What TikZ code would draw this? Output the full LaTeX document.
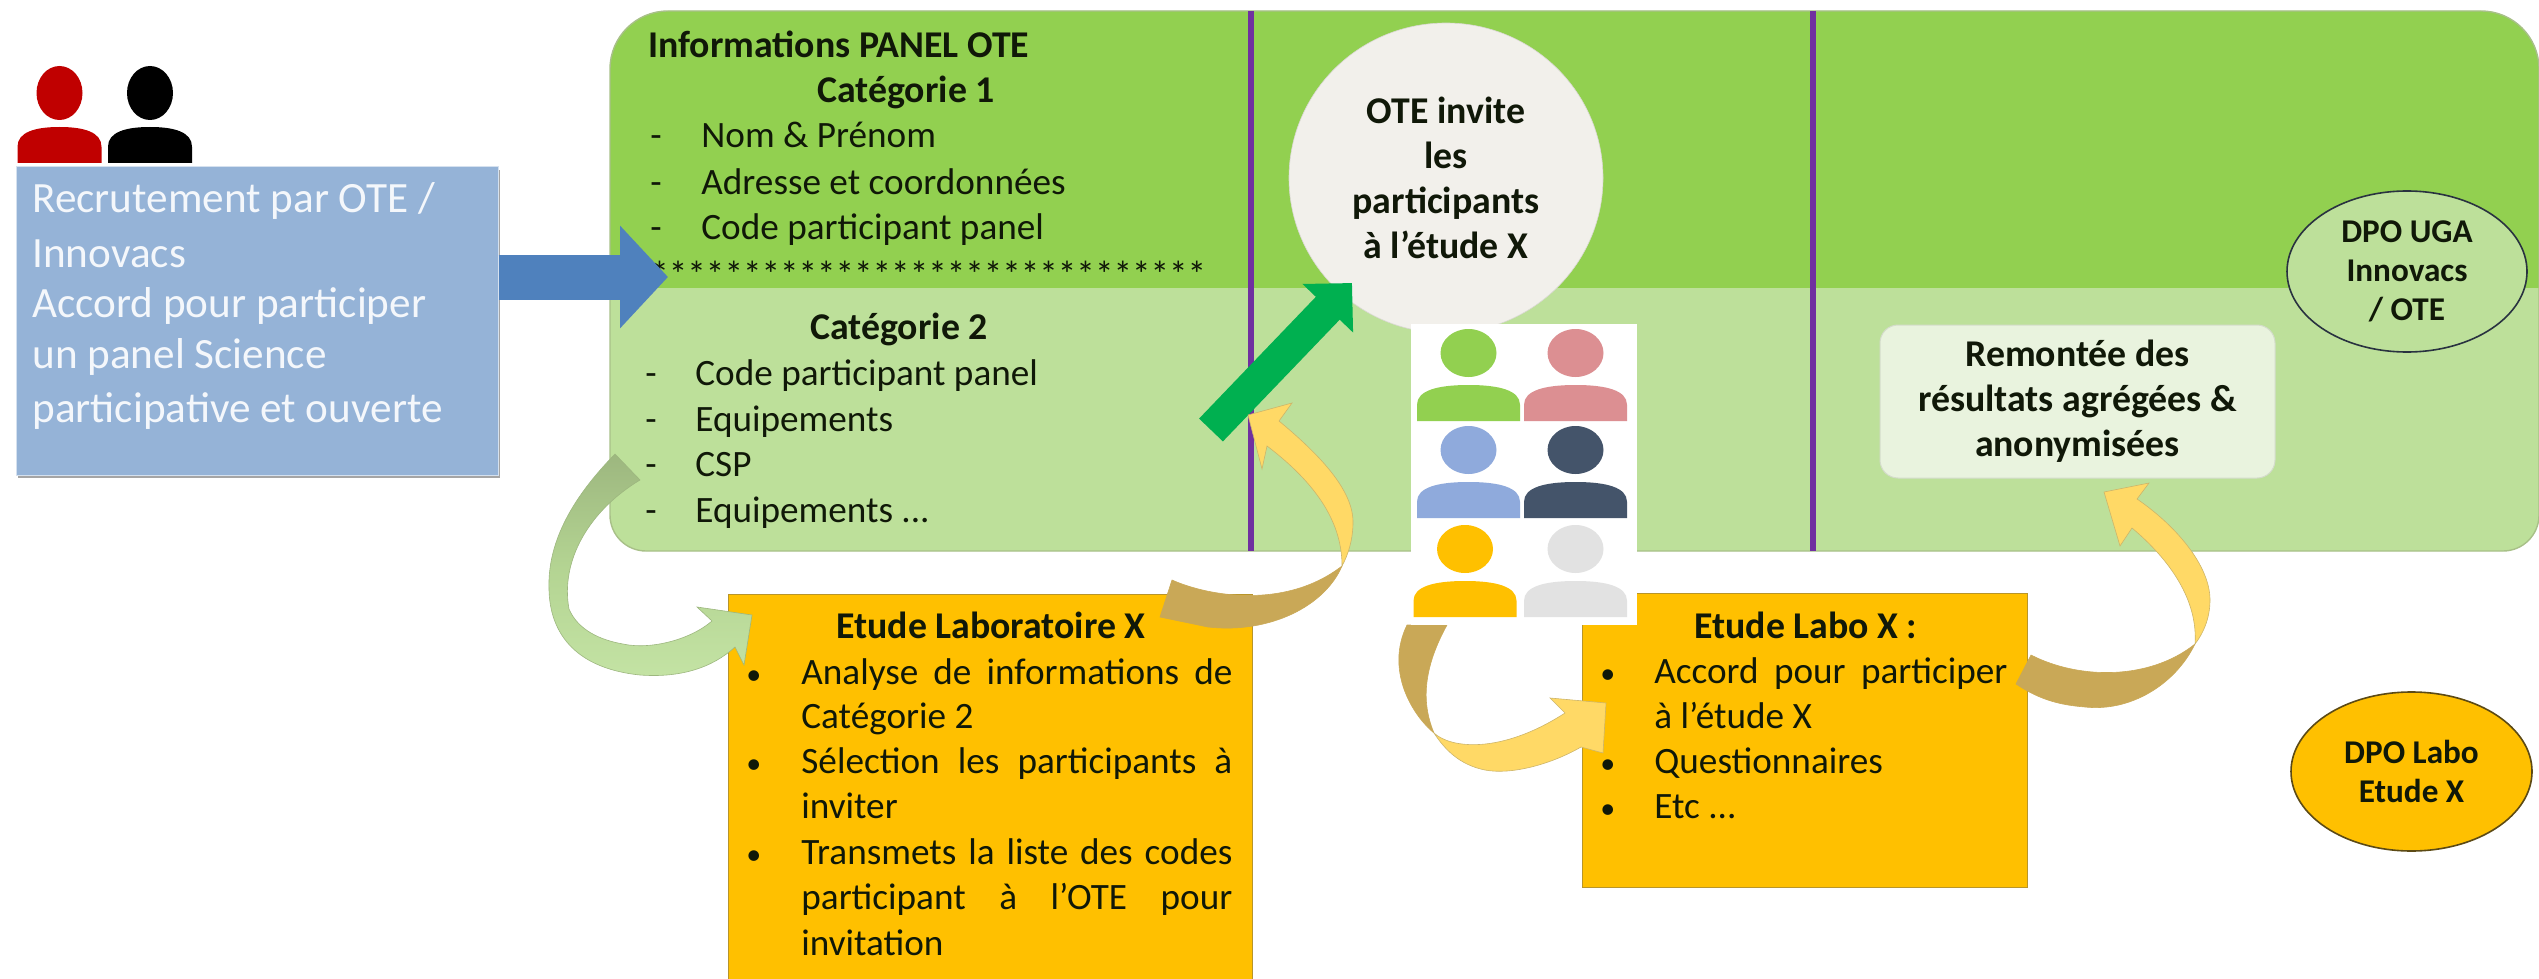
\documentclass[tikz,border=0pt]{standalone}
\usepackage{fontspec}
\setmainfont{Carlito}
\usetikzlibrary{arrows.meta,shapes.geometric,shadows}
\definecolor{dkgreen}{HTML}{92D050}
\definecolor{ltgreen}{HTML}{BDE09A}
\definecolor{edgegreen}{HTML}{A8C088}
\definecolor{purp}{HTML}{7030A0}
\definecolor{orng}{HTML}{FFC000}
\definecolor{orngedge}{HTML}{B8952A}
\definecolor{bluebox}{HTML}{95B3D7}
\definecolor{bluearr}{HTML}{4F81BD}
\definecolor{greenarr}{HTML}{00B050}
\definecolor{txt}{HTML}{101808}
\definecolor{circ}{HTML}{F2F0EB}
\definecolor{remont}{HTML}{E9F3DE}
\definecolor{yel}{HTML}{FFD966}
\definecolor{tan}{HTML}{C9A857}
\definecolor{sage}{HTML}{9DB77F}
\definecolor{navy}{HTML}{44546A}
\definecolor{pinkp}{HTML}{DC8F92}
\definecolor{bluep}{HTML}{8FAADC}
\definecolor{greyp}{HTML}{E2E2E2}
\definecolor{redp}{HTML}{C00000}
\newcommand{\pers}[8]{%
  \begin{scope}[shift={(#1,#2)}]
    \fill[#8] (-#3,0) -- (-#3,-0.45*#4) .. controls (-#3,-0.85*#4) and (-0.6*#3,-#4) .. (0,-#4)
      .. controls (0.6*#3,-#4) and (#3,-0.85*#4) .. (#3,-0.45*#4) -- (#3,0) -- cycle;
    \fill[#8] (0,{-(#4+#7+#6)}) ellipse [x radius=#5, y radius=#6];
  \end{scope}}
\tikzset{
  reg/.style={font=\fontsize{18.6}{20}\selectfont, text=txt},
  bld/.style={font=\fontsize{18.9}{20}\selectfont\bfseries, text=txt},
  tl/.style={reg, anchor=base west, inner sep=0pt},
  tb/.style={bld, anchor=base west, inner sep=0pt},
  bul/.style={anchor=base west, inner sep=0pt, text=txt, font=\fontsize{15}{20}\selectfont},
  wl/.style={anchor=base west, inner sep=0pt, text=white!90!bluebox, font=\fontsize{21.6}{24}\selectfont},
  orbox/.style={rectangle, fill=orng, draw=orngedge, line width=0.5pt, inner sep=0pt},
  dpo/.style={ellipse, inner sep=0pt, line width=0.8pt},
  ribyel/.style={fill=yel, draw=orngedge!70, line width=0.3pt},
  ribtan/.style={fill=tan, draw=tan, line width=0.3pt},
  vsep/.style={purp, line width=3pt},
}
\begin{document}
\begin{tikzpicture}[x=0.5pt,y=-0.5pt]
\useasboundingbox (0,0) rectangle (2539,979);
% panel
\begin{scope}
  \clip (610,300) [rounded corners=29pt] -- (610,11) -- (2539,11) [rounded corners=18pt] -- (2539,551) -- (610,551) -- cycle;
  \fill[ltgreen] (600,0) rectangle (2539,560);
  \fill[dkgreen] (600,0) rectangle (2539,288);
\end{scope}
\draw[edgegreen, line width=0.7pt] (610,300) [rounded corners=29pt] -- (610,11) -- (2539,11) [rounded corners=18pt] -- (2539,551) -- (610,551) -- cycle;
\coordinate (s1t) at (1250.5,11); \coordinate (s1b) at (1250.5,551);
\coordinate (s2t) at (1812.5,11); \coordinate (s2b) at (1812.5,551);
\draw[vsep] (s1t) -- (s1b);
\draw[vsep] (s2t) -- (s2b);
% panel text
\node[tb] (pt) at (648,58) {Informations PANEL OTE};
\node[tb] (c1) at (817,103) {Catégorie 1};
\node[tl] (d1) at (650,148) {-};
\node[tl] (l1) at (701,148) {Nom \& Prénom};
\node[tl] (d2) at (650,194) {-};
\node[tl] (l2) at (701,194) {Adresse et coordonnées};
\node[tl] (d3) at (650,239) {-};
\node[tl] (l3) at (701,239) {Code participant panel};
\node[tl] (stars) at (650,287) {******************************};
\node[tb] (c2) at (810,339) {Catégorie 2};
\node[tl] (d4) at (645,385) {-};
\node[tl] (l4) at (695,385) {Code participant panel};
\node[tl] (d5) at (645,431) {-};
\node[tl] (l5) at (695,431) {Equipements};
\node[tl] (d6) at (645,476) {-};
\node[tl] (l6) at (695,476) {CSP};
\node[tl] (d7) at (645,522) {-};
\node[tl] (l7) at (695,522) {Equipements ...};
% circle
\node[ellipse, fill=circ, draw=circ!90!black, line width=0.3pt, minimum width=157pt, minimum height=155pt, inner sep=0pt, bld, align=center] (invite) at (1446,178) {OTE invite\\[2.4pt]les\\[2.4pt]participants\\[2.4pt]à l’étude X};
% left people and recruitment box
\pers{59.5}{163}{42}{36}{23}{27}{7}{redp}
\pers{150}{163}{42}{36}{23}{27}{7}{black}
\node[rectangle, fill=bluebox, draw=white!60!bluebox, line width=0.5pt, minimum width=241pt, minimum height=154pt, inner sep=0pt, drop shadow={shadow xshift=1pt,shadow yshift=-1.5pt,fill=black!70}] (recruit) at (257,321) {};
\node[wl] (r1) at (32,213) {Recrutement par OTE /};
\node[wl] (r2) at (32,267) {Innovacs};
\node[wl] (r3) at (32,317) {Accord pour participer};
\node[wl] (r4) at (32,368) {un panel Science};
\node[wl] (r5) at (32,422) {participative et ouverte};
\coordinate (bluetip) at (668,277);
\draw[bluearr, line width=22.5pt, -{Triangle[length=24pt,width=50pt]}] (recruit.east |- bluetip) -- (bluetip);
% box 1
\node[orbox, minimum width=262pt, minimum height=192.5pt] (lab1) at (990,786.5) {};
\node[tb] (t1) at (836,638) {Etude Laboratoire X};
\foreach \n/\y in {a/684,b/773,c/864}{\node[bul] (b\n) at (746,\y) {•};}
\node[tl] (a1) at (801,684) {\makebox[215.5pt][s]{Analyse de informations de}};
\node[tl] (a2) at (801,728) {Catégorie 2};
\node[tl] (a3) at (801,773) {\makebox[215.5pt][s]{Sélection les participants à}};
\node[tl] (a4) at (801,818.5) {inviter};
\node[tl] (a5) at (801,864) {\makebox[215.5pt][s]{Transmets la liste des codes}};
\node[tl] (a6) at (801,909) {\makebox[215.5pt][s]{participant à l’OTE pour}};
\node[tl] (a7) at (801,955) {invitation};
% box 2
\node[orbox, minimum width=222.75pt, minimum height=147pt] (lab2) at (1804.75,740) {};
\node[tb] (t2) at (1694,638) {Etude Labo X :};
\foreach \n/\y in {d/683,e/773,f/818}{\node[bul] (b\n) at (1600,\y) {•};}
\node[tl] (e1) at (1654,683) {\makebox[176.5pt][s]{Accord pour participer}};
\node[tl] (e2) at (1654,728) {à l’étude X};
\node[tl] (e3) at (1654,773) {Questionnaires};
\node[tl] (e4) at (1654,818) {Etc ...};
% green arrow
\coordinate (gtail) at (1211,430);
\coordinate (gtip) at (1352,283);
\draw[greenarr, line width=16.5pt, -{Triangle[length=17.5pt,width=34pt]}] (gtail) -- (gtip);
% ribbon A: panel to lab 1
\shade[top color=sage, bottom color=ltgreen!90!white, middle color=ltgreen!70!sage, draw=sage, line width=0.3pt]
  (615,454) .. controls (575,495) and (547,540) .. (549,590) .. controls (550,630) and (572,668) .. (640,675)
  .. controls (680,678) and (712,668) .. (735,647) -- (744,665) -- (752,615) -- (697,607) -- (712,621)
  .. controls (690,640) and (650,650) .. (623,644) .. controls (600,640) and (578,630) .. (569,609)
  .. controls (560,560) and (590,510) .. (640,480) -- cycle;
% ribbon B: lab 1 to green arrow
\fill[ribtan] (1172,580) .. controls (1208,596) and (1285,610) .. (1342,566)
  .. controls (1325,606) and (1270,634) .. (1208,627) -- (1160,617) -- cycle;
\filldraw[ribyel] (1248,415) -- (1292,403) -- (1279,421) .. controls (1320,455) and (1353,490) .. (1353,522)
  .. controls (1353,540) and (1348,555) .. (1342,566) .. controls (1342,530) and (1325,490) .. (1267,446) -- (1262,469) -- cycle;
% ribbon C: people to lab 2
\fill[ribtan] (1407,625) -- (1447,625) .. controls (1425,665) and (1420,700) .. (1434,733)
  .. controls (1412,715) and (1385,670) .. (1407,625) -- cycle;
\filldraw[ribyel] (1434,733) .. controls (1450,748) and (1500,755) .. (1565,713) -- (1550,698) -- (1606,703) -- (1603,753) -- (1581,747)
  .. controls (1550,765) and (1510,775) .. (1485,770) .. controls (1460,765) and (1445,750) .. (1434,733) -- cycle;
% ribbon D: lab 2 to results
\fill[ribtan] (2031,655) .. controls (2080,680) and (2150,680) .. (2195,644)
  .. controls (2175,685) and (2130,712) .. (2085,707) .. controls (2060,705) and (2040,700) .. (2016,684) -- cycle;
\filldraw[ribyel] (2104,492) -- (2149,483) -- (2137,499) .. controls (2175,525) and (2210,565) .. (2210,600)
  .. controls (2210,620) and (2202,635) .. (2195,644) .. controls (2198,600) and (2170,560) .. (2132,528) -- (2120,546) -- cycle;
% people grid
\node[rectangle, fill=white, minimum width=113pt, minimum height=150.5pt, inner sep=0pt] (people) at (1524,474.5) {};
\pers{1468.5}{421}{51.5}{36}{28}{24}{8}{dkgreen}
\pers{1575.5}{421}{51.5}{36}{28}{24}{8}{pinkp}
\pers{1468.5}{518}{51.5}{36}{28}{24}{8}{bluep}
\pers{1575.5}{518}{51.5}{36}{28}{24}{8}{navy}
\pers{1465}{617}{51.5}{36}{28}{24}{8}{orng}
\pers{1575.5}{617}{51.5}{36}{28}{24}{8}{greyp}
% results
\node[rectangle, rounded corners=9pt, fill=remont, draw=remont!80!gray, line width=0.5pt, minimum width=197.5pt, minimum height=76.5pt, inner sep=0pt, bld, align=center] (res) at (2077.5,401.5) {Remontée des\\[2.4pt]résultats agrégées \&\\[2.4pt]anonymisées};
% DPO
\node[dpo, fill=ltgreen, draw=navy!60!black, minimum width=120pt, minimum height=80.5pt] (dpou) at (2407,271.5) {};
\node[inner sep=0pt, align=center, font=\fontsize{16.6}{19.5}\selectfont\bfseries, text=txt] (dpout) at (dpou) {DPO UGA\\Innovacs\\/ OTE};
\node[dpo, fill=orng, draw=orngedge!50!black, minimum width=120.5pt, minimum height=79.5pt] (dpol) at (2411.5,771.5) {};
\node[inner sep=0pt, align=center, font=\fontsize{16.6}{19.5}\selectfont\bfseries, text=txt] (dpolt) at (dpol) {DPO Labo\\Etude X};
\end{tikzpicture}
\end{document}
